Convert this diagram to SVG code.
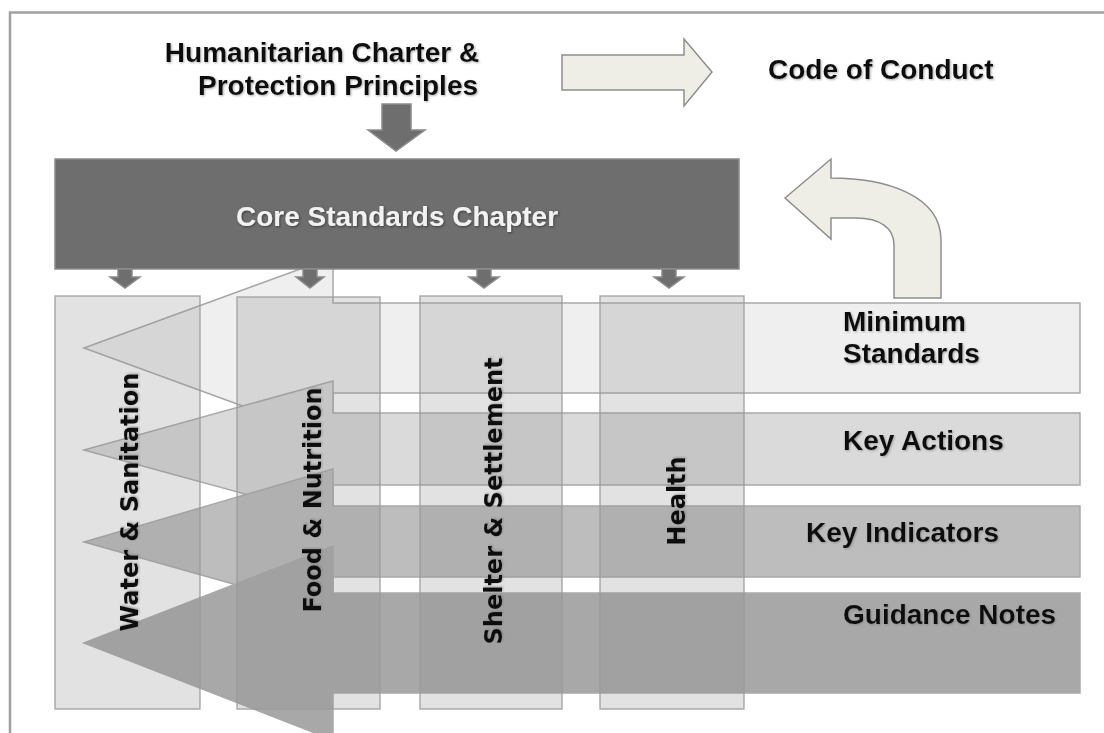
<svg xmlns="http://www.w3.org/2000/svg" width="1104" height="733" viewBox="0 0 1104 733">
  <defs>
    <filter id="sh" x="-10%" y="-30%" width="120%" height="160%">
      <feDropShadow dx="1" dy="1" stdDeviation="1" flood-color="#777" flood-opacity="0.6"/>
    </filter>
    <filter id="shd" x="-10%" y="-30%" width="120%" height="160%">
      <feDropShadow dx="1" dy="1" stdDeviation="1" flood-color="#333" flood-opacity="0.8"/>
    </filter>
  </defs>
  <style>
    .t { font-family: "Liberation Sans", Arial, sans-serif; font-weight: bold; font-size: 28px; fill: #111; }
    .v { font-family: "DejaVu Sans", Verdana, sans-serif; font-weight: bold; font-size: 24px; fill: #111; text-anchor: middle; }
    .dark { fill: #6e6e6e; stroke: #8c8c8c; stroke-width: 1.5; }
    .beige { fill: #efeee6; stroke: #8e8e8e; stroke-width: 1.5; }
    .band { stroke: #a9a9a9; stroke-width: 1.5; }
    .col { fill: #8c8c8c; fill-opacity: 0.25; stroke: #9a9a9a; stroke-opacity: 0.8; stroke-width: 1.5; }
    .frame { stroke: #a0a0a0; stroke-width: 2.5; fill: none; }
  </style>
  <rect width="1104" height="733" fill="#ffffff"/>
  <path class="frame" d="M10,733 L10,12.5 L1104,12.5"/>

  <g id="title">
    <text class="t" x="322" y="62" text-anchor="middle" filter="url(#sh)">Humanitarian Charter &amp;</text>
    <text class="t" x="338" y="95" text-anchor="middle" filter="url(#sh)">Protection Principles</text>
  </g>

  <g id="code-of-conduct">
    <text class="t" x="768" y="79" filter="url(#sh)">Code of Conduct</text>
  </g>

  <!-- horizontal bands (left-pointing block arrows) -->
  <g id="band-minimum-standards">
    <path class="band" fill="#efefef" d="M84,348 L333,257 L333,303 L1080,303 L1080,393 L333,393 L333,439 Z"/>
  </g>
  <g id="band-key-actions">
    <path class="band" fill="#dadada" d="M84,450 L333,381 L333,413 L1080,413 L1080,485 L333,485 L333,518 Z"/>
  </g>
  <g id="band-key-indicators">
    <path class="band" fill="#bdbdbd" d="M84,542 L333,469 L333,506 L1080,506 L1080,577 L333,577 L333,612 Z"/>
  </g>
  <g id="band-guidance-notes">
    <path class="band" fill="#a8a8a8" d="M84,643 L333,546 L333,593 L1080,593 L1080,693 L333,693 L333,740 Z"/>
  </g>

  <!-- vertical sector columns -->
  <g id="col-water">
    <rect class="col" x="55" y="296" width="145" height="413"/>
  </g>
  <g id="col-food">
    <rect class="col" x="237" y="297" width="143" height="412"/>
  </g>
  <g id="col-shelter">
    <rect class="col" x="420" y="296" width="142" height="413"/>
  </g>
  <g id="col-health">
    <rect class="col" x="600" y="296" width="144" height="413"/>
  </g>

  <g id="core-standards">
    <rect class="dark" x="55" y="159" width="684" height="110"/>
    <text class="t" x="397" y="226" text-anchor="middle" fill="#f2f2f2" style="fill:#f2f2f2" filter="url(#shd)">Core Standards Chapter</text>
  </g>

  <g id="connectors">
    <!-- title to core -->
    <path class="dark" d="M382,104 L411,104 L411,130 L425,130 L396,151 L368,130 L382,130 Z"/>
    <!-- to code of conduct -->
    <path class="beige" d="M562,55 L684,55 L684,39 L712,72 L684,106 L684,90 L562,90 Z"/>
    <!-- curved return arrow -->
    <path class="beige" d="M785,198 L831,159 L831,178 C885,178 941,195 941,240 L941,298 L894,298 L894,245 C894,228 880,218 856,218 L831,218 L831,239 Z"/>
    <!-- small arrows from core box -->
    <path class="dark" d="M118,269 L132,269 L132,277 L140,277 L125,288 L110,277 L118,277 Z"/>
    <path class="dark" d="M303,269 L317,269 L317,277 L324,277 L310,288 L296,277 L303,277 Z"/>
    <path class="dark" d="M477,269 L491,269 L491,277 L499,277 L484,288 L469,277 L477,277 Z"/>
    <path class="dark" d="M662,269 L676,269 L676,277 L684,277 L669,288 L654,277 L662,277 Z"/>
  </g>

  <g id="labels">
    <text class="t" x="843" y="331" filter="url(#sh)">Minimum</text>
    <text class="t" x="843" y="363" filter="url(#sh)">Standards</text>
    <text class="t" x="843" y="450" filter="url(#sh)">Key Actions</text>
    <text class="t" x="806" y="542" filter="url(#sh)">Key Indicators</text>
    <text class="t" x="843" y="624" filter="url(#sh)">Guidance Notes</text>
    <text class="v" transform="translate(138,502) rotate(-90)" filter="url(#sh)">Water &amp; Sanitation</text>
    <text class="v" transform="translate(321,500) rotate(-90)" filter="url(#sh)">Food &amp; Nutrition</text>
    <text class="v" transform="translate(502,501) rotate(-90)" filter="url(#sh)">Shelter &amp; Settlement</text>
    <text class="v" transform="translate(685,501) rotate(-90)" filter="url(#sh)">Health</text>
  </g>
</svg>
